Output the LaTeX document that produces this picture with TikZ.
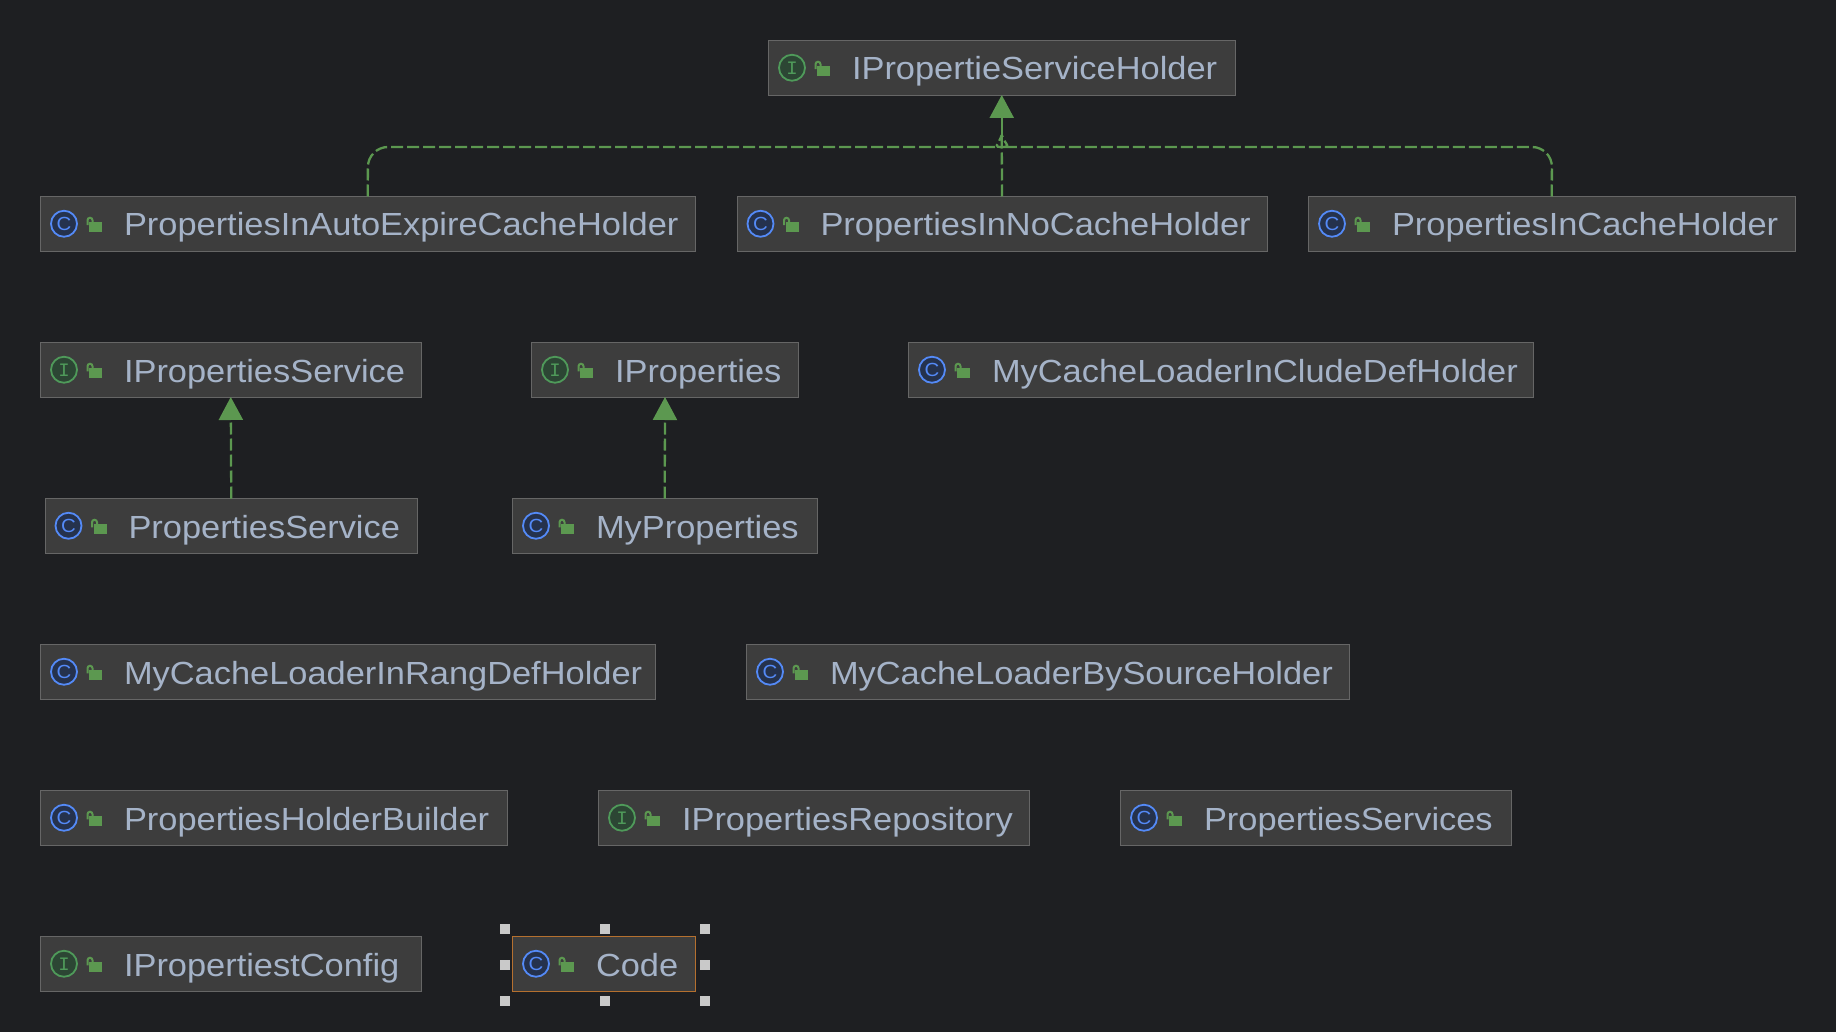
\documentclass[tikz,border=0pt]{standalone}
\usepackage{fontspec}
\setmainfont[FakeStretch=1.075]{Liberation Sans}
\newfontfamily\markfont{Liberation Mono}
\usetikzlibrary{arrows.meta}
\definecolor{canvas}{HTML}{1E1F22}
\definecolor{boxfill}{HTML}{3D3D3D}
\definecolor{boxline}{HTML}{666666}
\definecolor{boxtext}{HTML}{A5B3C8}
\definecolor{implgreen}{HTML}{5C9850}
\definecolor{ifacering}{HTML}{4F9A5A}
\definecolor{ifacefill}{HTML}{2C4634}
\definecolor{classring}{HTML}{548AF7}
\definecolor{classfill}{HTML}{25324D}
\definecolor{pickline}{HTML}{B5702F}
\definecolor{gripgray}{HTML}{C9C9C9}
\tikzset{
  classbox/.style={rectangle, draw=boxline, fill=boxfill, line width=0.9pt, anchor=north west,
    text width=#1pt, minimum height=54.5pt, inner xsep=0pt, inner ysep=0pt, outer sep=0pt,
    text height=32pt, text depth=7.5pt, text=boxtext, align=left,
    font=\fontsize{32}{32}\selectfont, execute at begin node=\hspace*{83.5pt}},
  ifacemark/.style={circle, draw=ifacering, fill=ifacefill, line width=1.8pt, minimum size=26pt,
    inner sep=0pt, text=ifacering, font=\markfont\fontsize{19}{19}\selectfont},
  classmark/.style={circle, draw=classring, fill=classfill, line width=1.8pt, minimum size=26pt,
    inner sep=0pt, text=classring, font=\fontsize{19}{19}\selectfont},
  lockmark/.pic={
    \fill[implgreen] (-4.7,-1.75) rectangle (8,8);
    \draw[implgreen, line width=2pt, rounded corners=2.5pt] (-6.5,1.5) -- (-6.5,-6) -- (-1.5,-6) -- (-1.5,-1.75);
  },
  gripbox/.style={rectangle, fill=gripgray, minimum size=10pt, inner sep=0pt},
  impl/.style={draw=implgreen, line width=2.3pt, dash pattern=on 12pt off 4pt},
  impltip/.style={-{Triangle[length=23pt,width=24pt,fill=implgreen]}},
}
\begin{document}
\begin{tikzpicture}[x=1pt, y=-1pt]
\fill[canvas] (0,0) rectangle (1836,1032);
\node (holder) at (768.5,40.5) [classbox=466.5] {IPropertieServiceHolder};
\node (autoexpire) at (40.5,196.5) [classbox=654.5] {PropertiesInAutoExpireCacheHolder};
\node (nocache) at (737,196.5) [classbox=530] {PropertiesInNoCacheHolder};
\node (incache) at (1308.5,196.5) [classbox=486.5] {PropertiesInCacheHolder};
\node (iservice) at (40.5,342.5) [classbox=380.5] {IPropertiesService};
\node (iprops) at (531.5,342.5) [classbox=267] {IProperties};
\node (includedef) at (908.5,342.5) [classbox=625] {MyCacheLoaderInCludeDefHolder};
\node (service) at (45,498.5) [classbox=372.5] {PropertiesService};
\node (myprops) at (512.5,498.5) [classbox=304.5] {MyProperties};
\node (rangdef) at (40.5,644.5) [classbox=615] {MyCacheLoaderInRangDefHolder};
\node (bysource) at (746.5,644.5) [classbox=603] {MyCacheLoaderBySourceHolder};
\node (builder) at (40.5,790.5) [classbox=467] {PropertiesHolderBuilder};
\node (irepo) at (598.5,790.5) [classbox=431] {IPropertiesRepository};
\node (services) at (1120.5,790.5) [classbox=391] {PropertiesServices};
\node (iconfig) at (40.5,936.5) [classbox=380.5] {IPropertiestConfig};
\node (code) at (512.5,936.5) [classbox=182.5, draw=pickline] {Code};
\foreach \n in {holder, iservice, iprops, irepo, iconfig}
  \node (\n mark) at ([xshift=23.5pt]\n.west) [ifacemark] {I};
\foreach \n in {autoexpire, nocache, incache, includedef, service, myprops, rangdef, bysource, builder, services, code}
  \node (\n mark) at ([xshift=23.5pt]\n.west) [classmark] {C};
\foreach \n in {holder, autoexpire, nocache, incache, iservice, iprops, includedef, service, myprops, rangdef, bysource, builder, irepo, services, iconfig, code}
  \pic at ([xshift=53.5pt]\n.west) {lockmark};
\foreach \n/\x/\y in {a/505/929, b/605/929, c/705/929, d/505/965, e/705/965, f/505/1001, g/605/1001, h/705/1001}
  \node (grip\n) at (\x,\y) [gripbox] {};
\coordinate (join) at ([yshift=-40pt]holder.south);
\draw[impl] (autoexpire.north) [rounded corners=20pt] -- (368,147) -- (983,147) [sharp corners] .. controls (992,147) and (998,146) .. (join);
\draw[impl] (incache.north) [rounded corners=20pt] -- (1552,147) -- (1021,147) [sharp corners] .. controls (1012,147) and (1006,146) .. (join);
\draw[impl] (nocache.north) -- (join);
\draw[implgreen, line width=2.3pt, impltip] (join) -- (holder.south);
\draw[impl, impltip] (service.north) -- (iservice.south);
\draw[impl, impltip] (myprops.north) -- (iprops.south);
\end{tikzpicture}
\end{document}
